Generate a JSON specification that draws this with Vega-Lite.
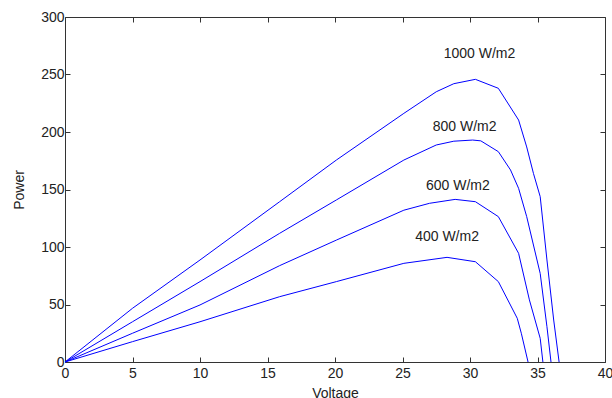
{
  "$schema": "https://vega.github.io/schema/vega-lite/v6.json",
  "width": 540,
  "height": 345,
  "autosize": {"type": "none"},
  "padding": {"left": 65, "top": 17, "right": 7, "bottom": 36},
  "background": "white",
  "config": {
    "view": {"stroke": "#333333", "strokeWidth": 1},
    "font": "Liberation Sans",
    "axis": {
      "grid": false,
      "domain": false,
      "tickColor": "#333333",
      "tickSize": -5,
      "labelFlush": false,
      "labelFont": "Liberation Sans",
      "labelFontSize": 14,
      "labelColor": "#222222",
      "titleFont": "Liberation Sans",
      "titleFontSize": 14,
      "titleFontWeight": "normal",
      "titleColor": "#222222"
    }
  },
  "datasets": {
    "curves": [
      {"G": "1000", "V": 0, "P": 0},
      {"G": "1000", "V": 5, "P": 46.7},
      {"G": "1000", "V": 10, "P": 88.7},
      {"G": "1000", "V": 15.9, "P": 139.4},
      {"G": "1000", "V": 20.1, "P": 175.6},
      {"G": "1000", "V": 25.1, "P": 216.2},
      {"G": "1000", "V": 27.5, "P": 235},
      {"G": "1000", "V": 28.8, "P": 242},
      {"G": "1000", "V": 30.4, "P": 245.8},
      {"G": "1000", "V": 32.1, "P": 238},
      {"G": "1000", "V": 33.6, "P": 210.4},
      {"G": "1000", "V": 34.2, "P": 187},
      {"G": "1000", "V": 34.7, "P": 164},
      {"G": "1000", "V": 35.2, "P": 143.8},
      {"G": "1000", "V": 35.7, "P": 88.7},
      {"G": "1000", "V": 36.2, "P": 36.5},
      {"G": "1000", "V": 36.6, "P": 0},
      {"G": "800", "V": 0, "P": 0},
      {"G": "800", "V": 5, "P": 35},
      {"G": "800", "V": 10, "P": 69.9},
      {"G": "800", "V": 15.9, "P": 111.9},
      {"G": "800", "V": 20.1, "P": 140.9},
      {"G": "800", "V": 25.1, "P": 175.6},
      {"G": "800", "V": 27.5, "P": 188.7},
      {"G": "800", "V": 28.8, "P": 192},
      {"G": "800", "V": 30.2, "P": 193},
      {"G": "800", "V": 30.8, "P": 192.3},
      {"G": "800", "V": 32.1, "P": 182.9},
      {"G": "800", "V": 33, "P": 167},
      {"G": "800", "V": 33.6, "P": 151},
      {"G": "800", "V": 34.2, "P": 126.4},
      {"G": "800", "V": 35.2, "P": 77},
      {"G": "800", "V": 35.7, "P": 30.7},
      {"G": "800", "V": 36.0, "P": 0},
      {"G": "600", "V": 0, "P": 0},
      {"G": "600", "V": 5, "P": 25},
      {"G": "600", "V": 10, "P": 49.6},
      {"G": "600", "V": 15.9, "P": 83.8},
      {"G": "600", "V": 20.1, "P": 106},
      {"G": "600", "V": 25.1, "P": 132},
      {"G": "600", "V": 27, "P": 138},
      {"G": "600", "V": 28.9, "P": 141.4},
      {"G": "600", "V": 30.4, "P": 139.4},
      {"G": "600", "V": 32.1, "P": 126.4},
      {"G": "600", "V": 33.6, "P": 94.5},
      {"G": "600", "V": 34.4, "P": 54},
      {"G": "600", "V": 35.2, "P": 20.6},
      {"G": "600", "V": 35.4, "P": 0},
      {"G": "400", "V": 0, "P": 0},
      {"G": "400", "V": 5, "P": 17.7},
      {"G": "400", "V": 10, "P": 35},
      {"G": "400", "V": 15.9, "P": 56.8},
      {"G": "400", "V": 20.1, "P": 69.9},
      {"G": "400", "V": 25.1, "P": 85.8},
      {"G": "400", "V": 28.3, "P": 91},
      {"G": "400", "V": 30.4, "P": 87.2},
      {"G": "400", "V": 32.1, "P": 69.9},
      {"G": "400", "V": 33.5, "P": 38},
      {"G": "400", "V": 33.8, "P": 25},
      {"G": "400", "V": 34.3, "P": 0}
    ],
    "labels": [
      {"text": "1000 W/m2", "V": 30.7, "P": 268},
      {"text": "800 W/m2", "V": 29.6, "P": 204},
      {"text": "600 W/m2", "V": 29.1, "P": 153},
      {"text": "400 W/m2", "V": 28.3, "P": 109}
    ]
  },
  "layer": [
    {
      "data": {"name": "curves"},
      "mark": {"type": "line", "color": "#0000ff", "strokeWidth": 1, "interpolate": "linear"},
      "encoding": {
        "x": {"field": "V", "type": "quantitative", "scale": {"domain": [0, 40], "nice": false},
          "axis": {"title": "Voltage", "values": [0, 5, 10, 15, 20, 25, 30, 35, 40], "labelPadding": 9, "titlePadding": 6}},
        "y": {"field": "P", "type": "quantitative", "scale": {"domain": [0, 300], "nice": false},
          "axis": {"title": "Power", "values": [0, 50, 100, 150, 200, 250, 300], "labelPadding": 6, "titlePadding": 14}},
        "detail": {"field": "G"},
        "order": {"field": "V", "type": "quantitative"}
      }
    },
    {
      "data": {"name": "labels"},
      "mark": {"type": "text", "font": "Liberation Sans", "fontSize": 14, "color": "#222222", "align": "center", "baseline": "middle"},
      "encoding": {
        "x": {"field": "V", "type": "quantitative", "scale": {"domain": [0, 40], "nice": false},
          "axis": {"orient": "top", "title": null, "labels": false, "values": [0, 5, 10, 15, 20, 25, 30, 35, 40]}},
        "y": {"field": "P", "type": "quantitative", "scale": {"domain": [0, 300], "nice": false},
          "axis": {"orient": "right", "title": null, "labels": false, "values": [0, 50, 100, 150, 200, 250, 300]}},
        "text": {"field": "text"}
      }
    }
  ],
  "resolve": {"axis": {"x": "independent", "y": "independent"}}
}
